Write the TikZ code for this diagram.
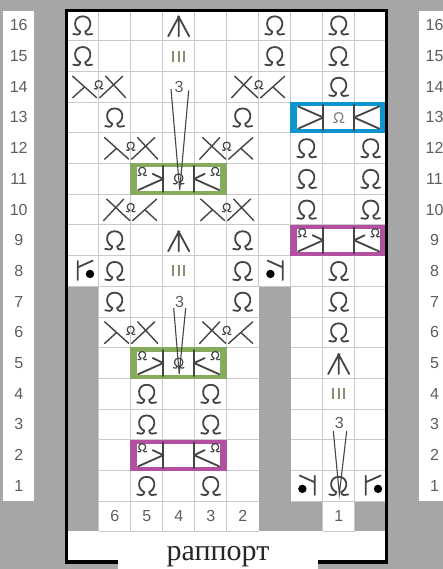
\documentclass[tikz,border=0pt]{standalone}
\usepackage{fontspec}
\setmainfont{Liberation Sans}
\newfontfamily\serifcyr{Liberation Serif}
\definecolor{bggray}{HTML}{A6A6A6}
\definecolor{gridc}{HTML}{C9C9C9}
\definecolor{ink}{HTML}{454545}
\definecolor{numc}{HTML}{5E5E5E}
\definecolor{boxgreen}{HTML}{87AB5C}
\definecolor{boxblue}{HTML}{0E94CE}
\definecolor{boxmag}{HTML}{B3509F}
\definecolor{triple}{HTML}{8C8C74}
\tikzset{
 ink line/.style={draw=ink,line width=1.8pt,line cap=round,line join=round},
 thin ink/.style={draw=ink,line width=1.1pt},
 num/.style={text=numc,font=\fontsize{16}{16}\selectfont,inner sep=0pt},
}
\newcommand{\cx}[1]{\fpeval{82.7+32*(#1)}}
\newcommand{\cy}[1]{\fpeval{25.35+30.7*(16-(#1))}}
% open loop
\newcommand{\lpath}{(-9.5,8.6) .. controls (-7,9.8) and (-2.6,10) .. (-2.4,6.2) .. controls (-9.8,3.5) and (-9.6,-9) .. (0,-9) .. controls (9.6,-9) and (9.8,3.5) .. (2.4,6.2) .. controls (2.6,10) and (7,9.8) .. (9.5,8.6)}
\newcommand{\lp}[2]{\draw[ink line,shift={(\cx{#1},\cy{#2})}] \lpath;}
\newcommand{\sloop}[4]{\begin{scope}[shift={(#1,#2)},scale=#3]\draw[ink line,line width=1.2pt,draw=#4] \lpath;\end{scope}}
% crossing over two cells, k = left cell
\newcommand{\crossg}[3]{\begin{scope}[shift={(\fpeval{\cx{#1}+16},\cy{#2})},xscale=#3]
 \draw[ink line,line width=1.4pt] (-26,-10.5)--(-2,11) (-26,11)--(-14.5,0.5) (1,11)--(24,-10.5) (7,-10.5)--(27,11);
 \sloop{0}{-2}{0.45}{ink}
 \end{scope}}
\newcommand{\arrowg}[2]{\begin{scope}[shift={(\cx{#1},\cy{#2})}]
 \draw[ink line] (-10.5,11)--(0,-8.5)--(10.5,11) (0,-8.5)--(0,11);
 \fill[ink] (0,-8.5) circle (1.6);
 \end{scope}}
\newcommand{\tripleg}[2]{\draw[triple,line width=1.6pt,shift={(\cx{#1},\cy{#2})}] (-5.5,-5.5)--(-5.5,5.5) (0,-5.5)--(0,5.5) (5.5,-5.5)--(5.5,5.5);}
% branch with dot
\newcommand{\dotg}[4]{\begin{scope}[shift={(\fpeval{\cx{#1}+#4},\cy{#2})},xscale=#3]
 \draw[ink line] (-5,-10)--(-5,9) (-5,-3.6)--(10,-10.3);
 \fill[black] (7.3,3) circle (4.2);
 \end{scope}}
% coloured box over three cells, k = centre cell; #4=1 with small loops
\newcommand{\sidehalf}[2]{\begin{scope}[xscale=#1]
 \draw[ink line] (-15.4,-13)--(-15.4,13);
 \draw[ink line] (-40.5,11.2)--(-15.4,0);
 \ifnum#2=1
 \draw[ink line] (-26,-5)--(-15.4,0);
 \sloop{-36.5}{-7.5}{0.45}{ink}
 \else
 \draw[ink line] (-40.5,-11)--(-15.4,0);
 \fi
 \end{scope}}
\newcommand{\boxg}[4]{\begin{scope}[shift={(\cx{#1},\cy{#2})}]
 \fill[#3] (-48.3,-15.6) rectangle (48.3,16);
 \fill[white] (-41.5,-11.5) rectangle (41.5,12);
 \sidehalf{1}{#4}\sidehalf{-1}{#4}
 \end{scope}}
\begin{document}
\begin{tikzpicture}[x=1pt,y=-1pt]
\useasboundingbox (0,0) rectangle (443,569);
\fill[bggray] (0,0) rectangle (443,569);
% number columns
\fill[white] (3,11) rectangle (34,500.7);
\fill[white] (419,11) rectangle (443,500.7);
\foreach \r in {1,...,16}{
 \node[num] (ln\r) at (18.7,\cy{\r}) {\r};
 \node[num] (rn\r) at (434.5,\cy{\r}) {\r};
}
% chart area
\fill[white] (66,10) rectangle (387,562);
\fill[bggray] (66,286) rectangle (98.7,531.3);
\fill[bggray] (258.7,286) rectangle (290.7,531.3);
\fill[bggray] (258.7,500.7) rectangle (322.7,531.3);
\fill[bggray] (354.7,500.7) rectangle (387,531.3);
% grid
\foreach \k in {0,...,9}{
 \draw[gridc,line width=0.9pt] ({98.7+32*\k},10) -- ({98.7+32*\k},286);
}
\foreach \k in {0,...,4,7,8}{
 \draw[gridc,line width=0.9pt] ({98.7+32*\k},286) -- ({98.7+32*\k},500.7);
}
\foreach \k in {0,...,4,7,8}{
 \draw[gridc,line width=0.9pt] ({98.7+32*\k},500.7) -- ({98.7+32*\k},531.3);
}
\foreach \r in {0,...,8}{
 \draw[gridc,line width=0.9pt] (66,{40.7+30.7*\r}) -- (387,{40.7+30.7*\r});
}
\foreach \r in {9,...,15}{
 \draw[gridc,line width=0.9pt] (98.7,{40.7+30.7*\r}) -- (258.7,{40.7+30.7*\r});
 \draw[gridc,line width=0.9pt] (290.7,{40.7+30.7*\r}) -- (387,{40.7+30.7*\r});
}
\draw[gridc,line width=0.9pt] (98.7,531.3) -- (258.7,531.3) (322.7,531.3) -- (354.7,531.3);
% loops
\foreach \k/\r in {0/16,0/15,6/16,6/15,8/16,8/15,8/14,1/13,5/13,7/12,7/11,7/10,9/12,9/11,9/10,1/9,1/8,1/7,5/9,5/8,5/7,8/8,8/7,8/6,8/1,2/4,2/3,2/1,4/4,4/3,4/1}{
 \lp{\k}{\r}
}
% crossings
\crossg{0}{14}{1}
\crossg{5}{14}{-1}
\crossg{1}{12}{1}
\crossg{4}{12}{-1}
\crossg{1}{10}{-1}
\crossg{4}{10}{1}
\crossg{1}{6}{1}
\crossg{4}{6}{-1}
% arrows and triple bars
\arrowg{3}{16}\arrowg{3}{9}\arrowg{8}{5}
\tripleg{3}{15}\tripleg{3}{8}\tripleg{8}{4}
% dots
\dotg{0}{8}{1}{0}
\dotg{6}{8}{-1}{3}
\dotg{7}{1}{-1}{3}
\dotg{9}{1}{1}{0}
% boxes
\boxg{3}{11}{boxgreen}{1}
\boxg{3}{5}{boxgreen}{1}
\boxg{3}{2}{boxmag}{1}
\boxg{8}{9}{boxmag}{1}
\boxg{8}{13}{boxblue}{0}
\sloop{\cx{3}}{\cy{11}}{0.55}{ink}
\sloop{\cx{3}}{\cy{5}}{0.55}{ink}
\sloop{\cx{8}}{\cy{13}}{0.55}{gray}
% threes with their lines
\node[num] (t1) at (179,87) {3};
\node[num] (t2) at (179.5,302) {3};
\node[num] (t3) at (339.3,423) {3};
\coordinate (e1) at (179.7,190);
\coordinate (e2) at (179.2,374);
\coordinate (e3) at (339.3,494);
\draw[thin ink] (171,89) -- (e1) -- (188.7,90.5);
\draw[thin ink] (173.7,308) -- (e2) -- (185.7,308);
\draw[thin ink] (333.3,431) -- (e3) -- (346.7,431);
% bottom numbers
\foreach \k/\t in {1/6,2/5,3/4,4/3,5/2,8/1}{
 \node[num] (b\t) at (\cx{\k},516) {\t};
}
% frame
\draw[black,line width=3.2pt] (66.6,10.6) rectangle (386.6,562);
% label
\fill[white] (118,532) rectangle (318,569);
\node[inner sep=0pt,font=\serifcyr\fontsize{30}{30}\selectfont,text=black!85] (lab) at (218,557) {раппорт};
\end{tikzpicture}
\end{document}
